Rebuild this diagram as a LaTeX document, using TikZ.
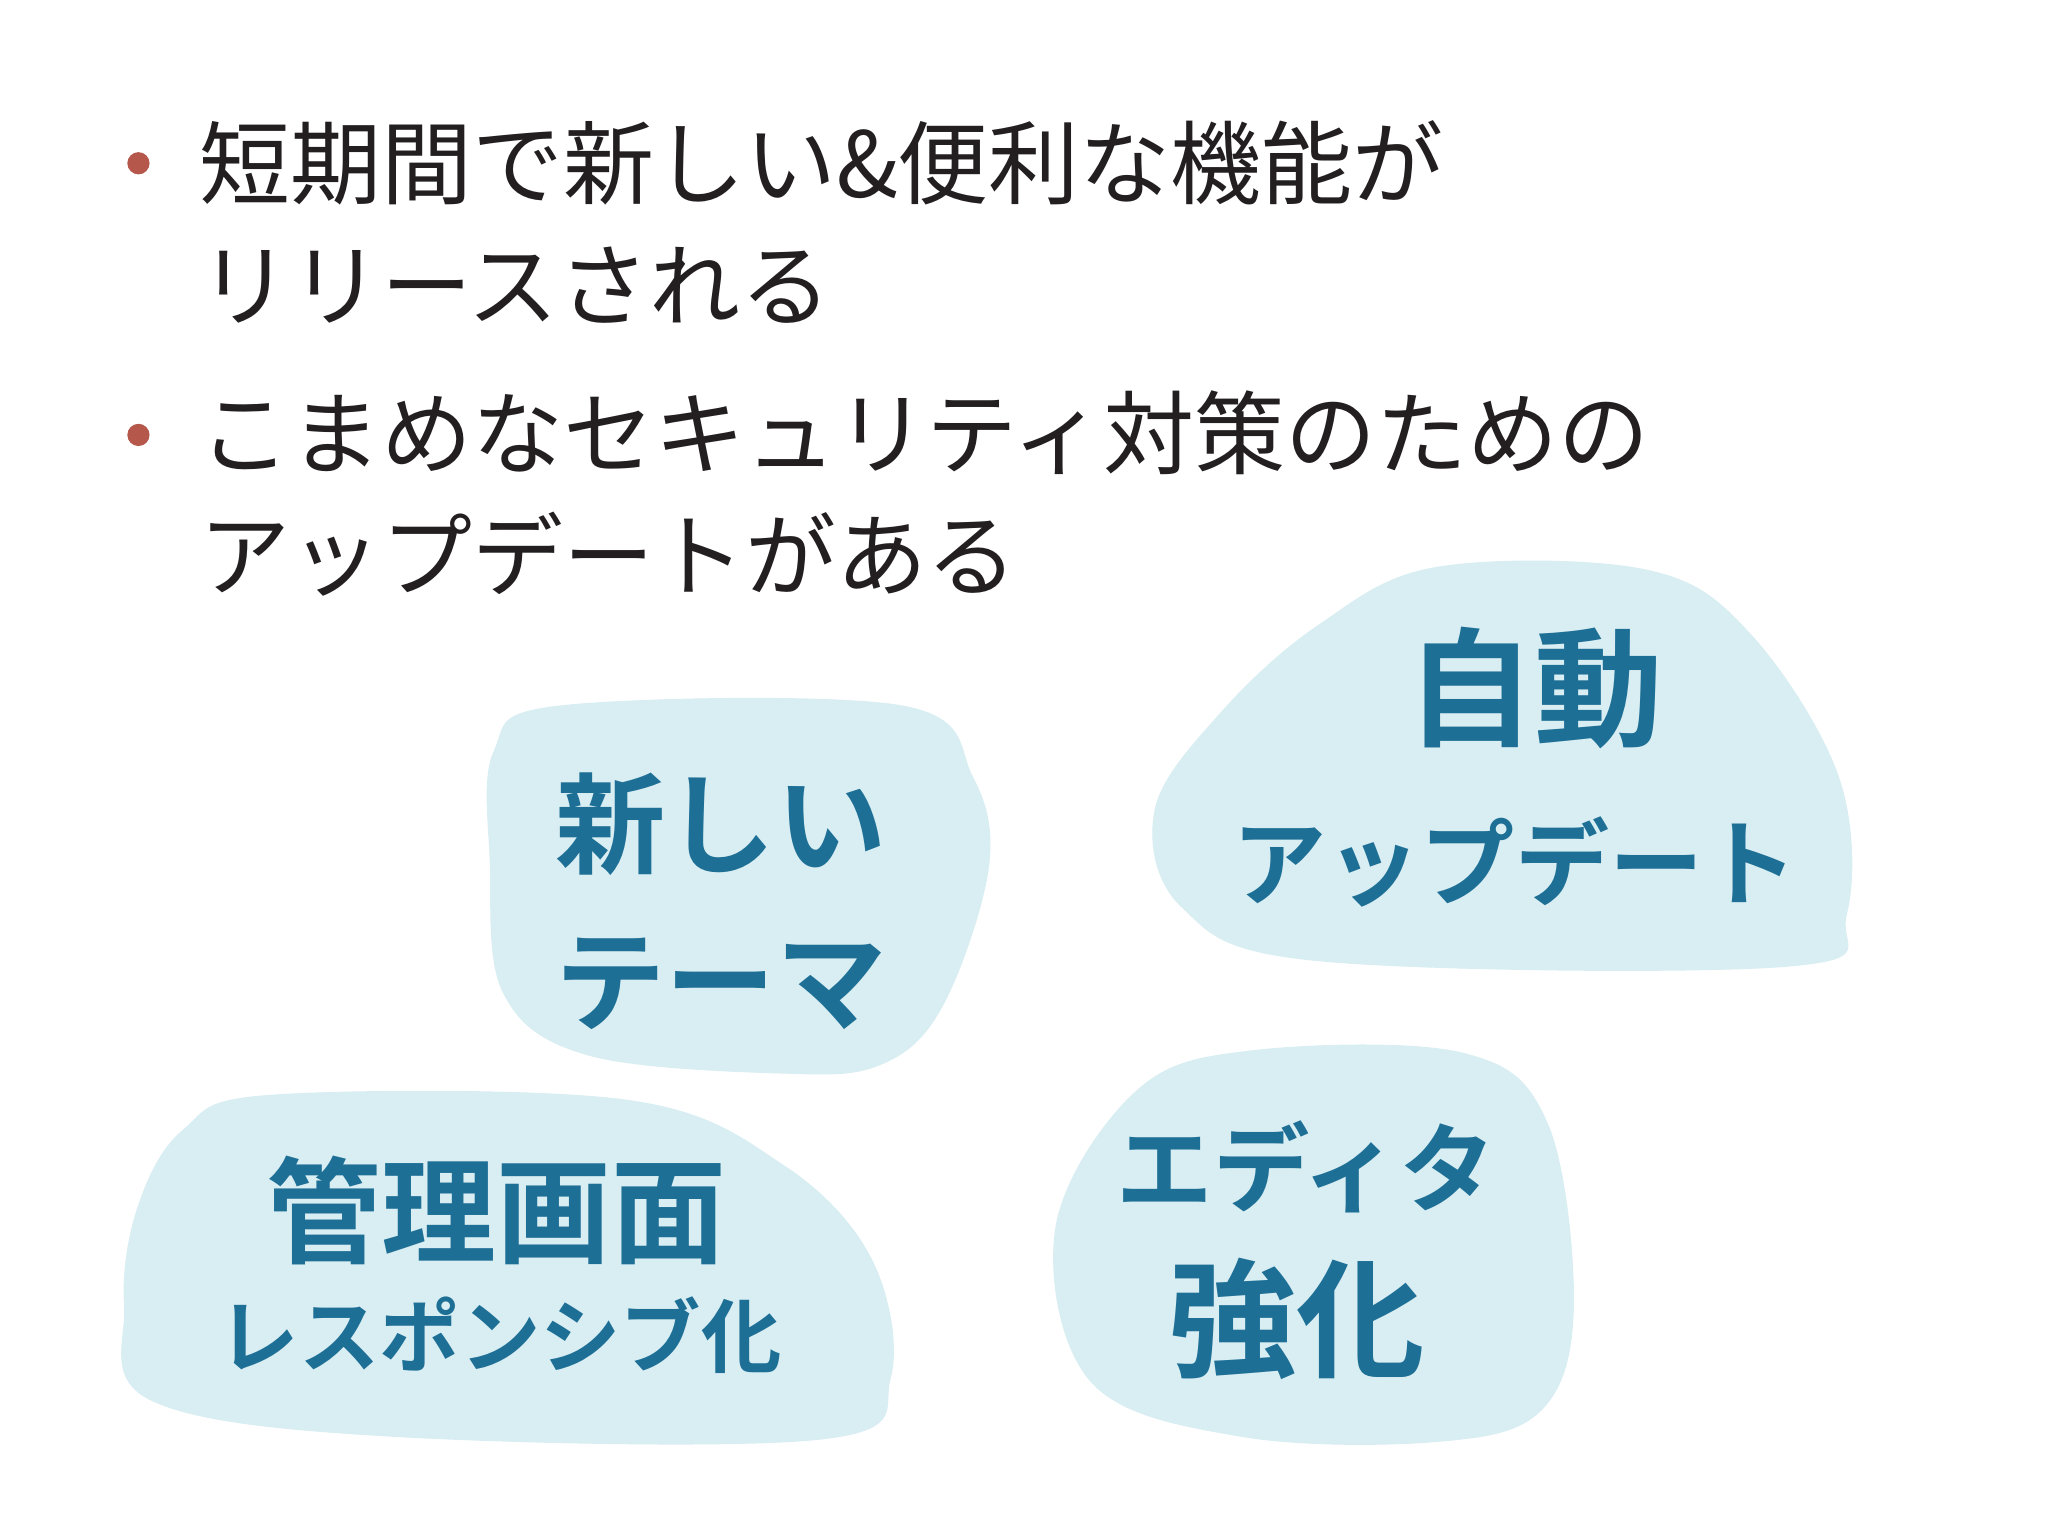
\documentclass[tikz,border=0pt]{standalone}
\usepackage{fontspec}
\setmainfont{Noto Sans CJK JP}
\newfontfamily\hand{Noto Sans CJK JP Bold}
\definecolor{blob}{HTML}{D9EEF2}
\definecolor{ink}{HTML}{1E6F96}
\definecolor{bul}{HTML}{B5574B}
\definecolor{txt}{HTML}{231F20}
\tikzset{blobshape/.style={fill=blob,draw=none},
 bullettext/.style={anchor=west,align=left,text=txt,font=\fontsize{19.8}{26.5}\selectfont,inner sep=0},
 dotb/.style={circle,fill=bul,inner sep=0,minimum size=1.7mm},
 handtext/.style={text=ink,align=center,inner sep=0}}
\begin{document}
\begin{tikzpicture}[x=0.01cm,y=-0.01cm]
\useasboundingbox[fill=white] (0,0) rectangle (1568,1176);
% blobs
\fill[blobshape] plot[smooth cycle,tension=0.6] coordinates{(378,575) (430,540) (690,540) (745,595) (757,665) (722,770) (675,815) (600,822) (450,808) (385,760) (375,660)};
\fill[blobshape] plot[smooth cycle,tension=0.6] coordinates{(1010,478) (1100,434) (1260,436) (1340,485) (1408,595) (1414,700) (1370,740) (1010,736) (905,695) (884,620) (935,545)};
\fill[blobshape] plot[smooth cycle,tension=0.6] coordinates{(140,865) (210,838) (480,842) (600,892) (668,965) (682,1055) (630,1102) (300,1100) (115,1072) (95,1000) (105,925)};
\fill[blobshape] plot[smooth cycle,tension=0.6] coordinates{(870,835) (960,804) (1120,806) (1185,860) (1205,1000) (1180,1080) (1100,1104) (950,1100) (835,1058) (808,940)};
% bullets
\node[dotb] (d1) at (106,125) {};
\node[bullettext] (t1) at (152,170) {短期間で新しい\&便利な機能が\\リリースされる};
\node[dotb] (d2) at (106,333) {};
\node[bullettext] (t2) at (152,378) {こまめなセキュリティ対策のための\\アップデートがある};
% hand texts
\node[handtext,font=\hand\fontsize{24}{34}\selectfont] (b1) at (552,690) {新しい\\テーマ};
\node[handtext,font=\hand\fontsize{28}{28}\selectfont] (b2a) at (1175,527) {自動};
\node[handtext,font=\hand\fontsize{20.5}{20}\selectfont] (b2b) at (1160,660) {アップデート};
\node[handtext,font=\hand\fontsize{25}{25}\selectfont] (b3a) at (380,927) {管理画面};
\node[handtext,font=\hand\fontsize{17.5}{17}\selectfont] (b3b) at (383,1022) {レスポンシブ化};
\node[handtext,font=\hand\fontsize{21}{21}\selectfont] (b4a) at (1000,893) {エディタ};
\node[handtext,font=\hand\fontsize{28}{28}\selectfont] (b4b) at (993,1010) {強化};
\end{tikzpicture}
\end{document}
